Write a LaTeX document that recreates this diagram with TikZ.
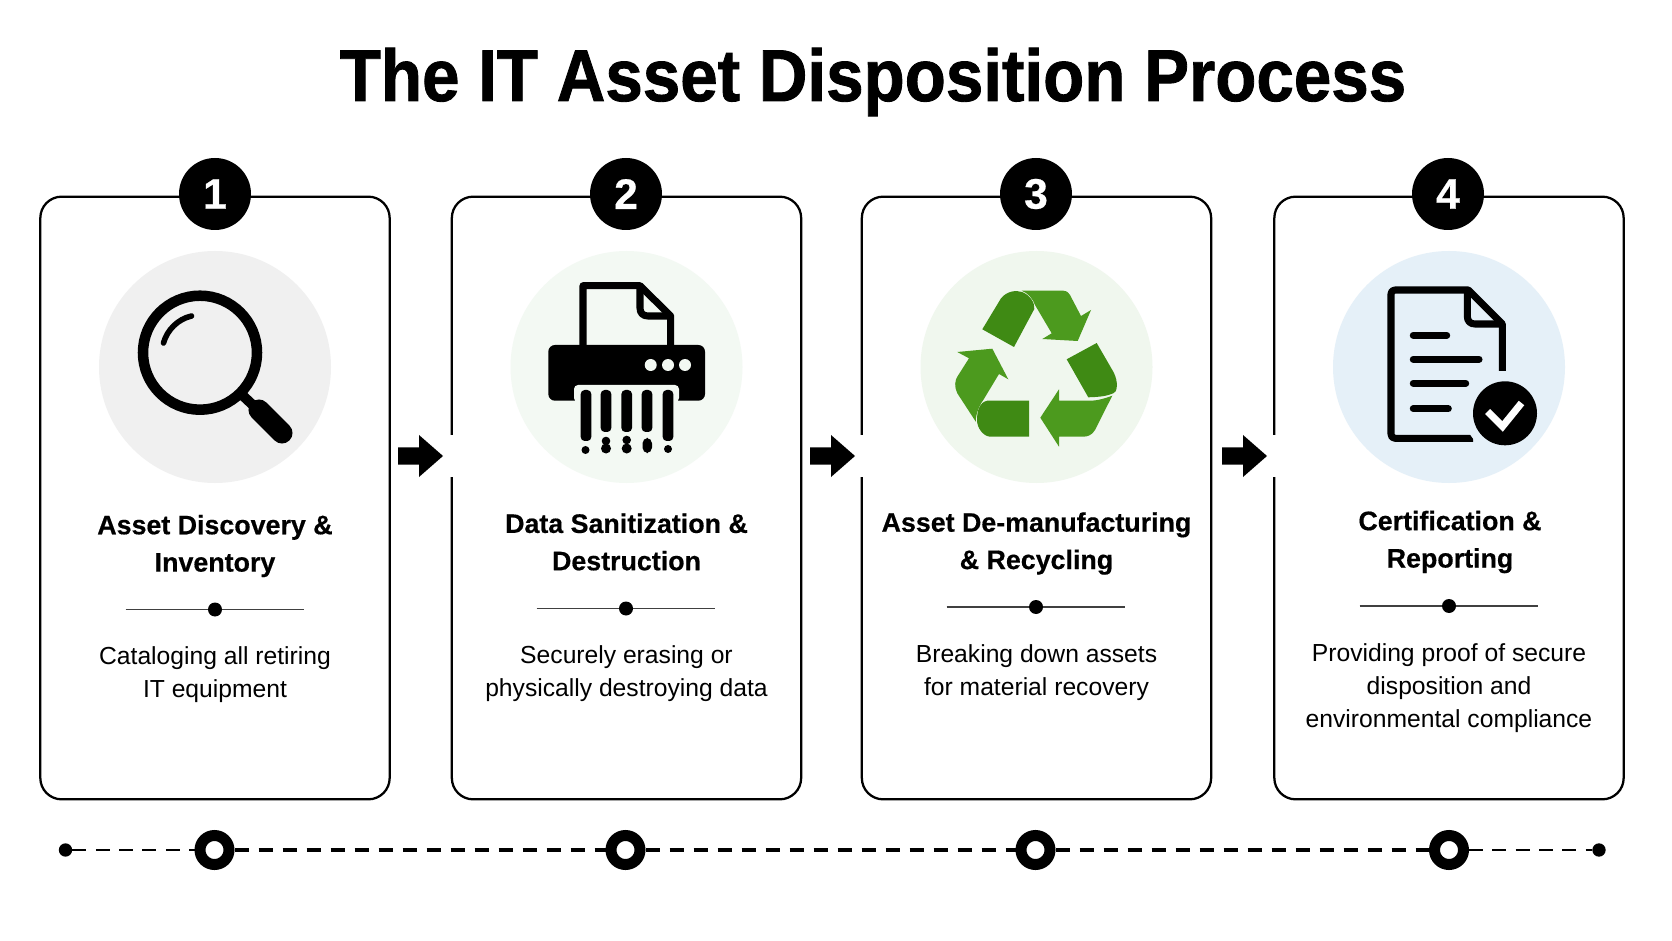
\documentclass[tikz,border=0pt]{standalone}
\usepackage{graphicx}
\usepackage{fontspec}
\setmainfont{Liberation Sans}
\newfontfamily\titlefont[BoldFeatures={FakeBold=1.2}]{Liberation Sans}
\newfontfamily\headfont[BoldFeatures={FakeBold=0.5}]{Liberation Sans}
\definecolor{grayc}{HTML}{F0F0F0}
\definecolor{mintc}{HTML}{F3F9F3}
\definecolor{leafc}{HTML}{F0F7EE}
\definecolor{bluec}{HTML}{E5F0F8}
\definecolor{darkleaf}{HTML}{3F8A14}
\definecolor{leaf}{HTML}{4C9A1E}
\tikzset{
 card/.style={draw=black,line width=1.7pt,rounded corners=16pt,fill=white,minimum width=262pt,minimum height=452pt,inner sep=0pt},
 badge/.style={circle,fill=black,text=white,minimum size=54pt,inner sep=0pt,font=\fontsize{32}{32}\selectfont\headfont\bfseries},
 halo/.style={circle,minimum size=174pt,inner sep=0pt},
 heading/.style={align=center,font=\fontsize{20.1}{28}\selectfont\headfont\bfseries,anchor=center},
 desc/.style={align=center,font=\fontsize{18.5}{24.75}\selectfont,anchor=north},
 rule/.style={line width=0.8pt,draw=black!75},
 ruledot/.style={circle,fill=black,minimum size=10.5pt,inner sep=0pt},
 ring/.style={circle,draw=black,line width=8.25pt,fill=white,minimum size=21.75pt,inner sep=0pt},
 enddot/.style={circle,fill=black,minimum size=10pt,inner sep=0pt},
 thindash/.style={line width=1.8pt,dash pattern=on 10.5pt off 7pt},
 thickdash/.style={line width=2.3pt,dash pattern=on 10.5pt off 7.5pt},
 iconline/.style={line width=5.3pt,draw=black,line join=round},
 txtline/.style={line width=5.3pt,draw=black,line cap=round},
 flow/.style={fill=black},
}
\begin{document}
\begin{tikzpicture}[x=0.75pt,y=-0.75pt]
\useasboundingbox (0,0) rectangle (1672,941);
\fill[white] (0,0) rectangle (1672,941);
\node[anchor=base,inner sep=0pt,font=\fontsize{50}{50}\selectfont\titlefont\bfseries] (title) at (873,101) {\scalebox{1.01}[1.1]{The IT Asset Disposition Process}};
% cards
\node[card] (c1) at (215,498) {};
\node[card] (c2) at (626.5,498) {};
\node[card] (c3) at (1036.5,498) {};
\node[card] (c4) at (1449,498) {};
% arrows with gap
\foreach \tipx/\next in {443/c2,855/c3,1267/c4}{
 \fill[white] (\tipx-4,435) rectangle (\tipx+14,477);
 \fill[flow] (\tipx-45,447.5) -- (\tipx-24,447.5) -- (\tipx-24,435) -- (\tipx,456) -- (\tipx-24,477) -- (\tipx-24,464.5) -- (\tipx-45,464.5) -- cycle;
}
% badges
\node[badge] (b1) at (215,194) {1};
\node[badge] (b2) at (626,194) {2};
\node[badge] (b3) at (1036,194) {3};
\node[badge] (b4) at (1448,194) {4};
% halos
\node[halo,fill=grayc] (h1) at (215,367) {};
\node[halo,fill=mintc] (h2) at (626.5,367) {};
\node[halo,fill=leafc] (h3) at (1036.5,367) {};
\node[halo,fill=bluec] (h4) at (1449,367) {};
% magnifier
\draw[line width=7.9pt] (200,352.7) circle (57);
\draw[line width=4.2pt,line cap=round] (163.5,343) .. controls (167,330) and (178,319) .. (191.5,316);
\draw[line width=7.5pt] (240,393) -- (256,408);
\draw[line width=15.8pt,line cap=round] (259,410) -- (282,433);
% shredder
\draw[iconline,fill=mintc] (583,346) -- (583,285.7) -- (640,285.7) -- (670.7,316) -- (670.7,346);
\draw[iconline] (640,285.7) -- (640,308) .. controls (640,313) and (643,316) .. (648,316) -- (670.7,316);
\fill[black,rounded corners=5pt] (548.3,345) rectangle (705,400.7);
\fill[mintc,rounded corners=3pt] (574,385) -- (679,385) -- (679,402) -- (574,402) -- cycle;
\foreach \px in {650.7,668,685} \fill[mintc] (\px,365) circle (6);
\foreach \px/\py in {586/441,606/432,626.7/432,647/432,668/441}
 \fill[black,rounded corners=3pt] (\px-5.3,390) rectangle (\px+5.3,\py);
\foreach \px/\py/\pr in {585.5/450/4,606/441/4.3,606/448.5/5,626.7/440/4.3,626.7/448.5/5,668/449/4}
 \fill[black] (\px,\py) circle (\pr);
\fill[black,rounded corners=4pt] (642.5,438) rectangle (652,453);
% recycle
\fill[darkleaf] (982.3,329.3) -- (1001,298.3) .. controls (1007,291) and (1016,290) .. (1022,292) .. controls (1030,295) and (1035,303) .. (1034.3,309) -- (1014,347) -- cycle;
\fill[leaf] (1021.7,290.7) -- (1063.3,290.7) .. controls (1067,291) and (1069,293) .. (1070,295) -- (1081,316) -- (1091,310) -- (1077.7,341) -- (1042.3,339) -- (1051.7,333.3) -- (1035,305) .. controls (1033,299) and (1028,293) .. (1021.7,290.7) -- cycle;
\fill[darkleaf] (1096.7,343) -- (1113.3,371.7) .. controls (1119,382) and (1117,393) .. (1113.3,393.3) .. controls (1107,396) and (1100,397) .. (1088.3,397.3) -- (1066.7,359.3) -- cycle;
\fill[leaf] (1112.3,395.7) -- (1095,430) .. controls (1092,435) and (1088,436.7) .. (1083,436.7) -- (1059,436.7) -- (1059,446.7) -- (1040.3,417.7) -- (1059,389.3) -- (1059,400.7) -- (1090,400.7) .. controls (1098,400.7) and (1106,398) .. (1112.3,395.7) -- cycle;
\fill[darkleaf] (1029,400.7) -- (987.3,400.7) .. controls (980,402) and (977,410) .. (977,420) .. controls (977,428) and (983,436) .. (990,436.7) -- (1029,436.7) -- cycle;
\fill[leaf] (957.3,352) -- (992.3,348.7) -- (1008.3,379.3) -- (999,374) -- (983.3,400) .. controls (978,407) and (975,418) .. (976,422) -- (957.3,393.3) .. controls (954,387) and (955,380) .. (957.3,376.7) -- (969,358.3) -- cycle;
% document
\draw[iconline,line join=round] (1502.3,371) -- (1502.3,324) -- (1468.3,290) -- (1395,290) .. controls (1392.5,290) and (1391,291.5) .. (1391,294) -- (1391,434) .. controls (1391,436.5) and (1392.5,438.3) .. (1395,438.3) -- (1473,438.3);
\draw[iconline] (1467.3,290) -- (1467.3,316) .. controls (1467.3,321) and (1470,324) .. (1475,324) -- (1502.3,324);
\draw[txtline] (1413.3,335.3) -- (1446.7,335.3);
\draw[txtline] (1413.3,359.3) -- (1479,359.3);
\draw[txtline] (1413.3,383.3) -- (1465.7,383.3);
\draw[txtline] (1413.3,408.7) -- (1448.3,408.7);
\fill[bluec] (1505,413) circle (41);
\fill[black] (1505,413.3) circle (32);
\draw[white,line width=5.3pt] (1487.5,411.5) -- (1502.5,426.5) -- (1521.5,403);
% text
\node[heading] (t1) at (215,546) {Asset Discovery \&\\Inventory};
\node[heading] (t2) at (626.5,542) {Data Sanitization \&\\Destruction};
\node[heading] (t3) at (1036.5,543.5) {Asset De-manufacturing\\\& Recycling};
\node[heading] (t4) at (1450,542) {Certification \&\\Reporting};
% dividers
\node[ruledot] (d1) at (215,609.5) {};
\node[ruledot] (d2) at (626,608.5) {};
\node[ruledot] (d3) at (1036,607) {};
\node[ruledot] (d4) at (1449,606) {};
\foreach \d in {d1,d2,d3,d4}{
 \coordinate (\d l) at ([xshift=-67pt]\d.center);
 \coordinate (\d r) at ([xshift=67pt]\d.center);
 \draw[rule] (\d l) -- (\d) -- (\d r);
}
\node[desc] (p1) at (215,642) {Cataloging all retiring\\IT equipment};
\node[desc] (p2) at (626.5,641) {Securely erasing or\\physically destroying data};
\node[desc] (p3) at (1036.5,640) {Breaking down assets\\for material recovery};
\node[desc] (p4) at (1449,639) {Providing proof of secure\\disposition and\\environmental compliance};
% timeline
\node[enddot] (e0) at (65.5,850) {};
\node[ring] (r1) at (214.5,850) {};
\node[ring] (r2) at (625.5,850) {};
\node[ring] (r3) at (1035.5,850) {};
\node[ring] (r4) at (1449,850) {};
\node[enddot] (e1) at (1599,850) {};
\draw[thindash] (e0) -- (r1);
\draw[thickdash] (r1) -- (r2);
\draw[thickdash] (r2) -- (r3);
\draw[thickdash] (r3) -- (r4);
\draw[thindash] (r4) -- (e1);
\end{tikzpicture}
\end{document}
